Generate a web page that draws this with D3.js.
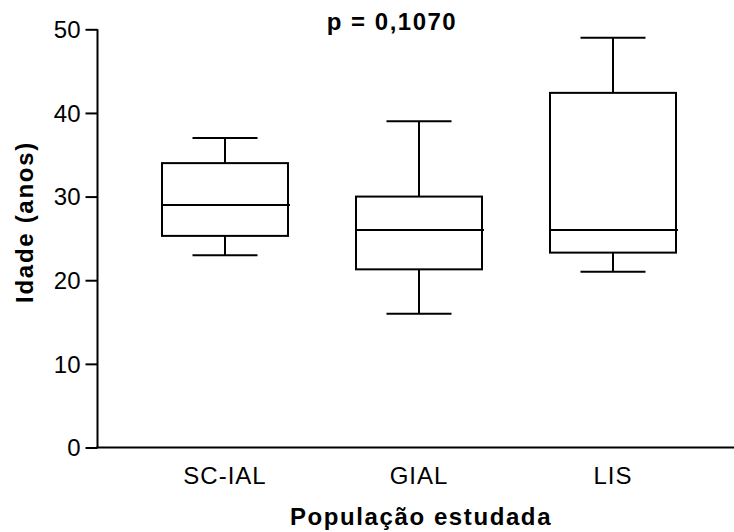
<!DOCTYPE html>
<html>
<head>
<meta charset="utf-8">
<script src="https://cdn.jsdelivr.net/npm/d3@7"></script>
<style>
  html, body { margin: 0; padding: 0; background: #fff; }
  svg { display: block; font-family: Arial, "Liberation Sans", sans-serif; }
</style>
</head>
<body>
<svg id="chart" width="734" height="532"></svg>
<script>
// Age distribution per study group (box-and-whisker, min to max)
const groups  = ["SC-IAL", "GIAL", "LIS"];
const mins    = [23, 16, 21];
const q1s     = [25.3, 21.3, 23.3];
const medians = [29, 26, 26];
const q3s     = [34, 30, 42.4];
const maxs    = [37, 39, 49];
const yTicks  = [0, 10, 20, 30, 40, 50];
const title   = "p = 0,1070";
const xTitle  = "População estudada";
const yTitle  = "Idade (anos)";

const svg = d3.select("#chart");
const axisX = 97.5, baseY = 447.5, topY = 29.3;

const y = d3.scaleLinear().domain([0, 50]).range([baseY, topY]);
const x = d3.scalePoint().domain(groups).range([225, 613]);
const boxW = 126, capW = 65;

const data = groups.map((g, i) => ({
  g, min: mins[i], q1: q1s[i], med: medians[i], q3: q3s[i], max: maxs[i]
}));

// y axis
const yAxis = svg.append("g")
  .attr("transform", `translate(${axisX},0)`)
  .call(d3.axisLeft(y).tickValues(yTicks).tickSize(12).tickPadding(5));
yAxis.select(".domain").attr("stroke", "#000").attr("stroke-width", 2)
  .attr("d", `M0,${topY}V${baseY}`);
yAxis.selectAll(".tick line").attr("stroke", "#000").attr("stroke-width", 2);
yAxis.selectAll(".tick text").attr("fill", "#000").style("font-size", "24px")
  .attr("dy", "0.35em");

// x baseline
svg.append("line")
  .attr("x1", axisX - 1).attr("x2", 734)
  .attr("y1", baseY).attr("y2", baseY)
  .attr("stroke", "#000").attr("stroke-width", 2);

// category labels
svg.append("g").selectAll("text").data(groups).join("text")
  .attr("x", d => x(d)).attr("y", 484)
  .attr("text-anchor", "middle")
  .style("font-size", "24px").style("letter-spacing", "1px")
  .text(d => d);

// boxes
const b = svg.append("g").attr("stroke", "#000").attr("stroke-width", 2).attr("fill", "none");
data.forEach(d => {
  const cx = x(d.g);
  // whiskers
  b.append("line").attr("x1", cx).attr("x2", cx).attr("y1", y(d.max)).attr("y2", y(d.q3));
  b.append("line").attr("x1", cx).attr("x2", cx).attr("y1", y(d.q1)).attr("y2", y(d.min));
  // caps
  b.append("line").attr("x1", cx - capW / 2).attr("x2", cx + capW / 2).attr("y1", y(d.max)).attr("y2", y(d.max));
  b.append("line").attr("x1", cx - capW / 2).attr("x2", cx + capW / 2).attr("y1", y(d.min)).attr("y2", y(d.min));
  // box
  b.append("rect").attr("x", cx - boxW / 2).attr("y", y(d.q3))
    .attr("width", boxW).attr("height", y(d.q1) - y(d.q3));
  // median
  b.append("line").attr("x1", cx - boxW / 2).attr("x2", cx + boxW / 2 + 2)
    .attr("y1", y(d.med)).attr("y2", y(d.med));
});

// titles
svg.append("text").attr("x", 392).attr("y", 30).attr("text-anchor", "middle")
  .style("font-size", "24px").style("font-weight", "bold").style("letter-spacing", "1.5px")
  .text(title);

svg.append("text").attr("x", 421).attr("y", 525).attr("text-anchor", "middle")
  .style("font-size", "24px").style("font-weight", "bold").style("letter-spacing", "1.6px")
  .text(xTitle);

svg.append("text")
  .attr("transform", "translate(33,222) rotate(-90)")
  .attr("text-anchor", "middle")
  .style("font-size", "24px").style("font-weight", "bold").style("letter-spacing", "1.7px")
  .text(yTitle);
</script>
</body>
</html>
